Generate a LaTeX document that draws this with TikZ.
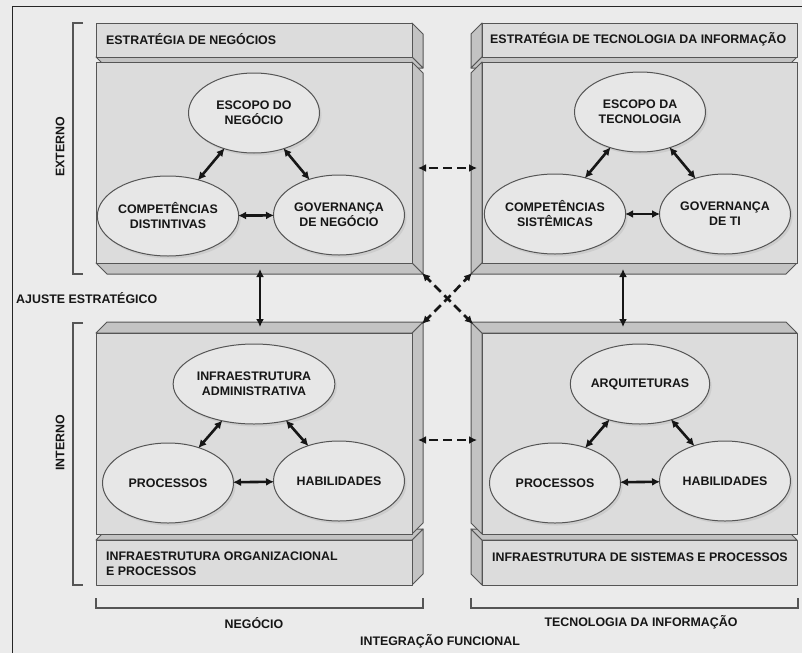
\documentclass[tikz,border=0pt]{standalone}
\usepackage{fontspec}
\setmainfont{Liberation Sans}
\usetikzlibrary{arrows.meta,shapes.geometric,shadows}

\definecolor{bgcol}{HTML}{EBEBEB}
\definecolor{facecol}{HTML}{DCDCDC}
\definecolor{sidecol}{HTML}{C3C3C3}
\definecolor{ovalcol}{HTML}{E7E7E7}
\definecolor{edgecol}{HTML}{555555}
\definecolor{inkcol}{HTML}{161616}

% A slab seen in relief: front face (#1,#2)-(#3,#4),
% vertical side face on edge x=#5, horizontal face on edge y=#6,
% depth offset (#7,#8).
\newcommand\slab[8]{%
  \filldraw[sideface] (#5,#2) -- ++(#7,#8) -- ({#5+#7},{#4+#8}) -- (#5,#4) -- cycle;
  \filldraw[sideface] (#1,#6) -- ++(#7,#8) -- ({#3+#7},{#6+#8}) -- (#3,#6) -- cycle;
  \filldraw[frontface] (#1,#2) rectangle (#3,#4);
}

\tikzset{
  lbl/.style={font=\bfseries\fontsize{12.4}{15}\selectfont, text=inkcol, inner sep=0pt},
  frontface/.style={fill=facecol, draw=edgecol, line width=1pt, line join=round},
  sideface/.style={fill=sidecol, draw=edgecol, line width=1pt, line join=round},
  oval/.style={ellipse, draw=edgecol, line width=1pt, fill=ovalcol,
    minimum width=131pt, minimum height=80pt, inner sep=0pt, align=center,
    font=\bfseries\fontsize{12.4}{15}\selectfont, text=inkcol,
    drop shadow={shadow xshift=2pt, shadow yshift=-2.5pt, opacity=0.16}},
  bracket/.style={draw=edgecol, line width=1.1pt},
  dbl/.style={draw=inkcol, line width=2.6pt, {Latex[length=8pt,width=8pt]}-{Latex[length=8pt,width=8pt]}},
  half/.style={draw=inkcol, line width=2.6pt, -{Latex[length=8pt,width=8pt]},
    dash pattern=on 9pt off 5pt, dash phase=4.5pt},
}

\begin{document}
\begin{tikzpicture}[x=1pt, y=-1pt]
  \useasboundingbox (0,0) rectangle (802,653);
  \fill[bgcol] (0,0) rectangle (802,653);

  % outer frame (top and left rules)
  \draw[line width=1.4pt, draw=black!85] (802,6.5) -- (12.5,6.5) -- (12.5,653);

  % upper-left block: strategy header and business panel
  \slab{96}{23}{412}{57}{412}{57}{11}{11}
  \slab{96}{62}{412}{263}{412}{263}{11}{11}
  % upper-right block
  \slab{482}{23}{797}{57}{482}{57}{-11}{11}
  \slab{482}{62}{797}{263}{482}{263}{-11}{11}
  % lower-left block: footer first, panel over it
  \slab{96}{540}{412}{585}{412}{540}{11}{-11}
  \slab{96}{333}{412}{534}{412}{333}{11}{-11}
  % lower-right block
  \slab{482}{540}{797}{585}{482}{540}{-11}{-11}
  \slab{482}{333}{797}{534}{482}{333}{-11}{-11}

  % brackets
  \draw[bracket] (83,23) -- (73,23) -- (73,274) -- (83,274);
  \draw[bracket] (83,323) -- (73,323) -- (73,585) -- (83,585);
  \draw[bracket] (96,598) -- (96,608) -- (423,608) -- (423,598);
  \draw[bracket] (471,598) -- (471,608) -- (798,608) -- (798,598);

  % block titles
  \node[lbl, anchor=west] (t1) at (106,39) {ESTRATÉGIA DE NEGÓCIOS};
  \node[lbl, anchor=west] (t2) at (490,39) {ESTRATÉGIA DE TECNOLOGIA DA INFORMAÇÃO};
  \node[lbl, anchor=west, align=left] (t3) at (106,564) {INFRAESTRUTURA ORGANIZACIONAL\\E PROCESSOS};
  \node[lbl, anchor=west] (t4) at (492,557) {INFRAESTRUTURA DE SISTEMAS E PROCESSOS};

  % axis labels
  \node[lbl, rotate=90] (ext) at (60,147) {EXTERNO};
  \node[lbl, rotate=90] (int) at (60,443) {INTERNO};
  \node[lbl, anchor=west] (aju) at (16,298) {AJUSTE ESTRATÉGICO};
  \node[lbl] (neg) at (254,623) {NEGÓCIO};
  \node[lbl] (ti) at (641,622) {TECNOLOGIA DA INFORMAÇÃO};
  \node[lbl] (intf) at (440,641) {INTEGRAÇÃO FUNCIONAL};

  % ellipses: business strategy
  \node[oval] (bs1) at (254,113) {ESCOPO DO\\NEGÓCIO};
  \node[oval] (bs2) at (168,216) {COMPETÊNCIAS\\DISTINTIVAS};
  \node[oval] (bs3) at (339,215) {GOVERNANÇA\\DE NEGÓCIO};
  % ellipses: IT strategy
  \node[oval] (ts1) at (640,112) {ESCOPO DA\\TECNOLOGIA};
  \node[oval] (ts2) at (555,214) {COMPETÊNCIAS\\SISTÊMICAS};
  \node[oval] (ts3) at (725,214) {GOVERNANÇA\\DE TI};
  % ellipses: organizational infrastructure
  \node[oval] (bi1) at (254,384) {INFRAESTRUTURA\\ADMINISTRATIVA};
  \node[oval] (bi2) at (168,483) {PROCESSOS};
  \node[oval] (bi3) at (339,481) {HABILIDADES};
  % ellipses: IT infrastructure
  \node[oval] (ti1) at (640,384) {ARQUITETURAS};
  \node[oval] (ti2) at (555,483) {PROCESSOS};
  \node[oval] (ti3) at (725,481) {HABILIDADES};

  % links inside each panel
  \foreach \p in {bs,ts,bi,ti}{
    \draw[dbl, shorten <=-1pt, shorten >=-1pt] (\p1) -- (\p2);
    \draw[dbl, shorten <=-1pt, shorten >=-1pt] (\p1) -- (\p3);
    \draw[dbl, shorten <=-1pt, shorten >=-1pt] (\p2) -- (\p3);
  }

  % link end points between blocks
  \coordinate (vl1) at (260,269);  \coordinate (vl2) at (260,327);
  \coordinate (vr1) at (623,269);  \coordinate (vr2) at (623,327);
  \coordinate (hu1) at (418,168);  \coordinate (hu2) at (477,168);
  \coordinate (hd1) at (418,440);  \coordinate (hd2) at (477,440);
  \coordinate (xa) at (422,273);   \coordinate (xb) at (473,324);
  \coordinate (xc) at (472,273);   \coordinate (xd) at (422,324);
  \coordinate (hum) at (447.5,168);
  \coordinate (hdm) at (447.5,440);
  \coordinate (xm) at (447.5,298.5);

  % strategic fit (solid)
  \draw[dbl] (vl1) -- (vl2);
  \draw[dbl] (vr1) -- (vr2);
  % functional integration (dashed, drawn from the middle outwards)
  \draw[half] (hum) -- (hu1);  \draw[half] (hum) -- (hu2);
  \draw[half] (hdm) -- (hd1);  \draw[half] (hdm) -- (hd2);
  \draw[half] (xm) -- (xa);    \draw[half] (xm) -- (xb);
  \draw[half] (xm) -- (xc);    \draw[half] (xm) -- (xd);
\end{tikzpicture}
\end{document}
